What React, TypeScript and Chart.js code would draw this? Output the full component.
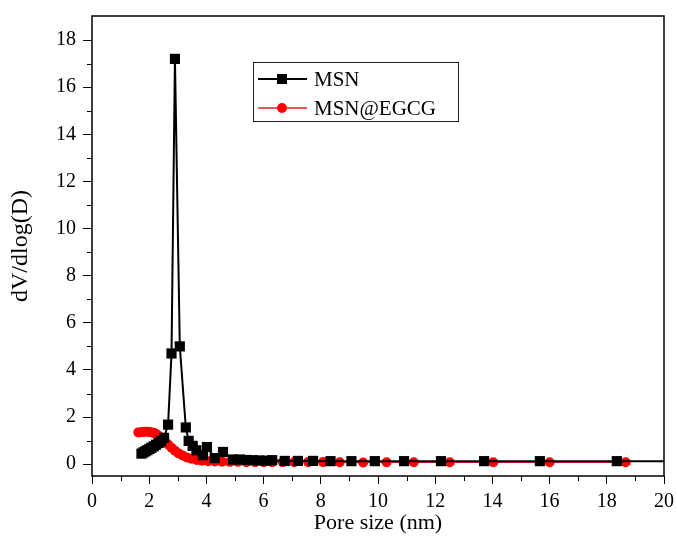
import React, { useEffect, useRef } from 'react';
import { Chart, registerables } from 'chart.js';
Chart.register(...registerables);

const MSN_LABEL = 'MSN';
const MSN_X = [1.73, 1.80, 1.87, 1.94, 2.01, 2.08, 2.16, 2.24, 2.33, 2.42, 2.52, 2.66, 2.78, 2.90, 3.07, 3.28, 3.38, 3.52, 3.65, 3.88, 4.02, 4.29, 4.58, 4.93, 5.17, 5.4, 5.62, 5.85, 6.1, 6.3, 6.74, 7.2, 7.73, 8.34, 9.07, 9.89, 10.91, 12.2, 13.71, 15.66, 18.35, 20];
const MSN_Y = [0.45, 0.5, 0.55, 0.6, 0.65, 0.7, 0.76, 0.83, 0.9, 0.98, 1.12, 1.68, 4.7, 17.2, 5.0, 1.56, 0.99, 0.78, 0.59, 0.38, 0.73, 0.26, 0.52, 0.2, 0.2, 0.18, 0.17, 0.16, 0.15, 0.17, 0.14, 0.14, 0.14, 0.13, 0.13, 0.13, 0.13, 0.13, 0.13, 0.13, 0.13, 0.13];

const EGCG_LABEL = 'MSN@EGCG';
const EGCG_X = [1.62, 1.70, 1.78, 1.86, 1.94, 2.02, 2.10, 2.18, 2.26, 2.35, 2.45, 2.55, 2.66, 2.78, 2.90, 3.03, 3.17, 3.32, 3.48, 3.66, 3.85, 4.06, 4.3, 4.55, 4.82, 5.1, 5.4, 5.7, 6.0, 6.3, 6.67, 7.07, 7.56, 8.08, 8.66, 9.48, 10.3, 11.25, 12.51, 14.03, 16.0, 18.66];
const EGCG_Y = [1.35, 1.36, 1.37, 1.38, 1.38, 1.37, 1.35, 1.32, 1.27, 1.19, 1.09, 0.97, 0.84, 0.7, 0.57, 0.46, 0.37, 0.29, 0.23, 0.18, 0.15, 0.13, 0.12, 0.11, 0.1, 0.1, 0.09, 0.09, 0.09, 0.09, 0.09, 0.09, 0.09, 0.09, 0.08, 0.07, 0.08, 0.08, 0.08, 0.08, 0.08, 0.08];

const X_TICKS = [0, 2, 4, 6, 8, 10, 12, 14, 16, 18, 20];
const X_MINOR = [1, 3, 5, 7, 9, 11, 13, 15, 17, 19];
const Y_TICKS = [0, 2, 4, 6, 8, 10, 12, 14, 16, 18];
const Y_MINOR = [1, 3, 5, 7, 9, 11, 13, 15, 17];

const X_TITLE = 'Pore size (nm)';
const Y_TITLE = 'dV/dlog(D)';

const FONT = '"Liberation Serif", "Times New Roman", serif';

const overlayPlugin = {
  id: 'overlay',
  afterDraw(chart: any) {
    const { ctx, chartArea: a, scales } = chart;
    ctx.save();
    ctx.strokeStyle = '#000';
    ctx.lineWidth = 1.5;
    ctx.strokeRect(a.left, a.top, a.right - a.left, a.bottom - a.top);
    ctx.lineWidth = 1;
    ctx.beginPath();
    X_MINOR.forEach((v) => {
      const px = Math.round(scales.x.getPixelForValue(v)) + 0.5;
      ctx.moveTo(px, a.bottom);
      ctx.lineTo(px, a.bottom + 5);
    });
    Y_MINOR.forEach((v) => {
      const py = Math.round(scales.y.getPixelForValue(v)) + 0.5;
      ctx.moveTo(a.left, py);
      ctx.lineTo(a.left - 5, py);
    });
    ctx.stroke();

    // legend
    const bx = 253, by = 62, bw = 205, bh = 59;
    ctx.fillStyle = '#fff';
    ctx.fillRect(bx, by, bw, bh);
    ctx.strokeStyle = '#222';
    ctx.lineWidth = 1;
    ctx.strokeRect(bx + 0.5, by + 0.5, bw, bh);
    const rows = [79, 108];
    chart.data.datasets.forEach((ds: any, i: number) => {
      const y = rows[i];
      ctx.strokeStyle = ds.borderColor;
      ctx.lineWidth = ds.borderWidth;
      ctx.beginPath();
      ctx.moveTo(258, y);
      ctx.lineTo(307, y);
      ctx.stroke();
      ctx.fillStyle = ds.pointBackgroundColor;
      if (ds.pointStyle === 'rect') {
        ctx.fillRect(282 - 5, y - 5, 10, 10);
      } else {
        ctx.beginPath();
        ctx.arc(282, y, 5, 0, Math.PI * 2);
        ctx.fill();
      }
      ctx.fillStyle = '#000';
      ctx.font = `21px ${FONT}`;
      ctx.textBaseline = 'middle';
      ctx.textAlign = 'left';
      ctx.fillText(ds.label, 314, y + 1);
    });
    ctx.restore();
  },
};

export default function App() {
  const ref = useRef<HTMLCanvasElement>(null);
  useEffect(() => {
    if (!ref.current) return;
    const chart = new Chart(ref.current, {
      type: 'line',
      data: {
        datasets: [
          {
            label: MSN_LABEL,
            data: MSN_X.map((x, i) => ({ x, y: MSN_Y[i] })),
            borderColor: '#000',
            backgroundColor: '#000',
            pointBackgroundColor: '#000',
            pointBorderColor: '#000',
            borderWidth: 2,
            pointStyle: 'rect',
            pointRadius: MSN_X.map((x) => (x >= 20 ? 0 : 7.2)),
            pointBorderWidth: 0,
            order: 1,
          },
          {
            label: EGCG_LABEL,
            data: EGCG_X.map((x, i) => ({ x, y: EGCG_Y[i] })),
            borderColor: '#e0201e',
            backgroundColor: '#ff0000',
            pointBackgroundColor: '#ff0000',
            pointBorderColor: '#ff0000',
            borderWidth: 1.5,
            pointStyle: 'circle',
            pointRadius: 5,
            pointBorderWidth: 0,
            order: 2,
          },
        ],
      } as any,
      options: {
        responsive: false,
        animation: false,
        events: [],
        layout: { padding: { left: 0, top: 16, right: 13, bottom: 0 } },
        plugins: { legend: { display: false }, tooltip: { enabled: false } },
        scales: {
          x: {
            type: 'linear',
            min: 0,
            max: 20,
            afterBuildTicks: (s: any) => {
              s.ticks = X_TICKS.map((value) => ({ value }));
            },
            afterFit: (s: any) => {
              s.height = 66;
              s.paddingLeft = 0;
              s.paddingRight = 0;
            },
            grid: { drawOnChartArea: false, drawTicks: true, tickLength: 8, color: '#000', lineWidth: 1 },
            border: { display: false },
            ticks: { color: '#000', font: { family: FONT, size: 20 }, padding: 6, maxRotation: 0 },
            title: { display: true, text: X_TITLE, color: '#000', font: { family: FONT, size: 22 }, padding: { top: 0, bottom: 6 } },
          },
          y: {
            type: 'linear',
            min: -0.5,
            max: 19.02,
            afterBuildTicks: (s: any) => {
              s.ticks = Y_TICKS.map((value) => ({ value }));
            },
            afterFit: (s: any) => {
              s.width = 92;
              s.paddingTop = 0;
              s.paddingBottom = 0;
            },
            grid: { drawOnChartArea: false, drawTicks: true, tickLength: 9, color: '#000', lineWidth: 1 },
            border: { display: false },
            ticks: { color: '#000', font: { family: FONT, size: 20 }, padding: 7 },
            title: { display: true, text: Y_TITLE, color: '#000', font: { family: FONT, size: 24 }, padding: { top: 6, bottom: 0 } },
          },
        },
      } as any,
      plugins: [overlayPlugin],
    });
    return () => chart.destroy();
  }, []);
  return (
    <div style={{ position: 'absolute', left: 0, top: 0, width: 677, height: 542, background: '#fff' }}>
      <canvas ref={ref} width={677} height={542} style={{ display: 'block' }} />
    </div>
  );
}
